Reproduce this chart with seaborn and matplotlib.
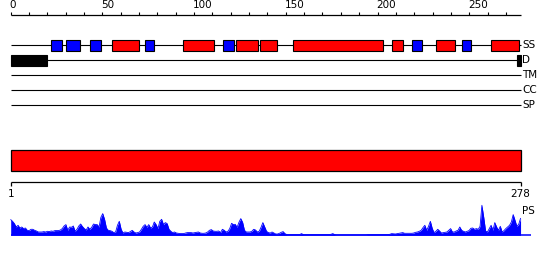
import numpy as np
import matplotlib
matplotlib.use("Agg")
import matplotlib.pyplot as plt
from matplotlib.patches import Rectangle
import seaborn as sns

# ---------------- data ----------------
seq_length = 278
axis_ticks_major = [0, 50, 100, 150, 200, 250]
track_names = ["SS", "D", "TM", "CC", "SP"]

helix_segments = [(55, 70), (94, 111), (123, 135), (136, 145), (154, 203),
                  (208, 214), (232, 242), (262, 277)]
strand_segments = [(22, 28), (30, 38), (43, 49), (73, 78), (116, 122),
                   (219, 224), (246, 251)]
disorder_segments = [(0, 20), (276, 278)]
domain_segments = [(0, 278)]
domain_labels = ["1", "278"]
profile_name = "PS"

ps_scores = [
    15.7, 14, 11.7, 8.3, 10, 7.3, 8.3, 6.7, 7.3, 5,
    4.7, 6, 6, 5, 4.3, 3.3, 3.3, 3.3, 3.7, 3.3,
    4, 3.7, 4.3, 4, 4.7, 4.7, 4.7, 5.3, 6.7, 9.3,
    10.7, 5, 8.3, 8, 9.3, 4, 6, 9.3, 11.3, 8.7,
    6.7, 5.3, 8.3, 6, 8, 11.3, 10.7, 10.7, 8.3, 18,
    21.7, 16, 7.3, 5, 4.7, 4, 2.7, 3.3, 10, 14,
    6, 2.3, 3.3, 3, 2.7, 3.7, 5, 3.3, 2.3, 2.7,
    3.3, 6, 9, 10.7, 8, 10.7, 7.3, 8.3, 13.3, 10.7,
    6.7, 14, 16, 10.7, 12.7, 11.7, 6, 4, 2.7, 3.3,
    2.3, 2, 1.7, 1.7, 1.7, 2.3, 2.7, 2.7, 2.7, 2.3,
    2.7, 3, 3.3, 2.3, 2, 2, 2.3, 3.3, 5, 5.7,
    4.3, 4, 4, 4.3, 2.7, 6, 5, 3.3, 4, 6.7,
    12, 10.7, 11, 8, 13, 16.7, 13, 5, 3.3, 3.3,
    3.3, 4, 6, 5.3, 3.3, 4, 8, 12.7, 8.3, 4,
    2.7, 2.3, 3.3, 2.3, 1.3, 1.3, 2, 3, 3.7, 1.7,
    0.7, 0.7, 0.7, 0.7, 0.7, 0.7, 0.7, 0.7, 1.7, 0.7,
    0.7, 0.7, 0.7, 0.7, 0.7, 0.7, 0.7, 0.7, 0.7, 0.7,
    0.7, 0.7, 0.7, 0.7, 1.0, 1.7, 0.7, 0.5, 0.5, 0.5,
    0.5, 0.5, 0.5, 0.5, 0.5, 0.5, 0.5, 0.5, 0.5, 0.5,
    0.5, 0.5, 0.5, 0.5, 0.7, 0.7, 0.7, 0.7, 0.7, 0.7,
    0.7, 0.7, 0.7, 0.7, 0.7, 0.7, 1, 1.7, 1.5, 1.3,
    1.7, 2, 2.3, 2.7, 2, 2, 2, 2, 2, 2.3,
    3, 3.3, 4, 5, 7.7, 10, 5, 9, 14, 7,
    2.7, 4, 6, 4.3, 2.3, 2.7, 3, 3.3, 5, 6.7,
    3.3, 3.3, 4.3, 5, 8.3, 5, 4, 3.3, 4, 4.7,
    7, 7.3, 6, 6.7, 6, 9, 30, 18, 4.3, 3.3,
    6.7, 10, 5, 12.7, 8.3, 5, 9, 3.3, 4.7, 6.7,
    8.3, 10, 13.3, 20.7, 15, 9, 11, 17,
]

# ---------------- style ----------------
sns.set_theme(style="white")
plt.rcParams["font.family"] = ["DejaVu Sans"]
RED = "#ff0000"
BLUE = "#0000ff"
FS = 7.5

fig = plt.figure(figsize=(5.5, 2.6), dpi=100)
ax = fig.add_axes([0, 0, 1, 1])
scale = 1.834
x0px = 10.7
ax.set_xlim(-x0px / scale, (550 - x0px) / scale)
ax.set_ylim(260, 0)
ax.axis("off")

# ---- top ruler ----
ruler_y = 15.0
ax.hlines(ruler_y, 0, seq_length, color="black", lw=0.9)
ax.vlines(np.arange(0, seq_length, 10), ruler_y - 3, ruler_y, color="black", lw=0.8)
for t in axis_ticks_major:
    ax.text(t - 0.5, ruler_y - 4.5, str(t), ha="left", va="bottom", fontsize=FS, color="black")

# ---- feature tracks ----
track_y = [45.3, 60.3, 75.3, 90.3, 105.3]
for name, y in zip(track_names, track_y):
    ax.hlines(y, 0, seq_length, color="black", lw=0.8, zorder=1)
    ax.text(seq_length + 0.8, y, name, ha="left", va="center", fontsize=FS, color="black")

box_h = 10.5
ss_y = track_y[0]
for s, e in helix_segments:
    ax.add_patch(Rectangle((s, ss_y - box_h / 2), e - s, box_h, facecolor=RED,
                           edgecolor="black", lw=0.8, zorder=3))
for s, e in strand_segments:
    ax.add_patch(Rectangle((s, ss_y - box_h / 2), e - s, box_h, facecolor=BLUE,
                           edgecolor="black", lw=0.8, zorder=3))
d_y = track_y[1]
for s, e in disorder_segments:
    ax.add_patch(Rectangle((s, d_y - box_h / 2), e - s, box_h, facecolor="black",
                           edgecolor="black", lw=0.8, zorder=3))

# ---- domain bar ----
for s, e in domain_segments:
    ax.add_patch(Rectangle((s, 150.2), e - s, 20.3, facecolor=RED,
                           edgecolor="black", lw=0.9, zorder=3))

# ---- bottom ruler ----
by = 181.5
ax.hlines(by, 0, seq_length, color="black", lw=0.9)
ax.vlines([0, seq_length], by, by + 4, color="black", lw=0.9)
ax.text(0, 194, domain_labels[0], ha="center", va="center", fontsize=FS, color="black")
ax.text(seq_length, 194, domain_labels[1], ha="center", va="center", fontsize=FS, color="black")

# ---- profile ----
base = 235.3
vals = np.array(ps_scores)
xs = np.linspace(0, seq_length, len(vals))
ys = base - vals
ax.fill_between(xs, base, ys, color=BLUE, lw=0, zorder=2)
sns.lineplot(x=xs, y=ys, color=BLUE, lw=0.6, ax=ax, zorder=2)
ax.hlines(base - 0.6, 0, seq_length + 5.5, color=BLUE, lw=1.1, zorder=2)
ax.text(seq_length + 1.0, 211, profile_name, ha="left", va="center", fontsize=FS, color="black")

fig.savefig("out.png", dpi=100, facecolor="white")
